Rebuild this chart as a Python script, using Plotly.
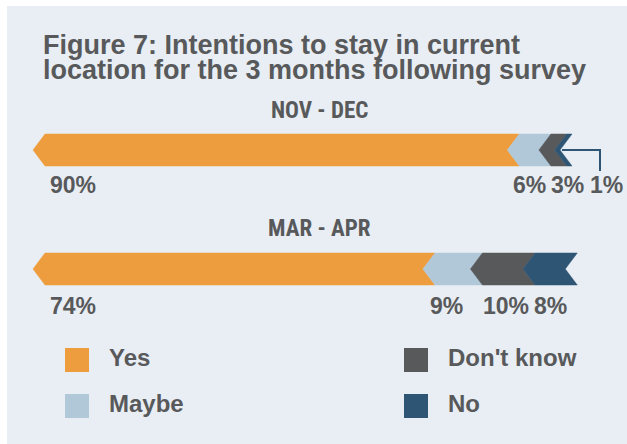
import plotly.graph_objects as go

# ---------------- data ----------------
periods = ["NOV - DEC", "MAR - APR"]
categories = ["Yes", "Maybe", "Don't know", "No"]
values_nov_dec = [90, 6, 3, 1]
values_mar_apr = [74, 9, 10, 8]
title_lines = ["Figure 7: Intentions to stay in current",
               "location for the 3 months following survey"]

colors = ["#EE9D3E", "#B1C8D9", "#58595B", "#2E5574"]
text_color = "#58595B"
panel_color = "#E8EEF3"

W, H = 627, 444
PX_PER_PCT = 5.27
X0_PX = 45  # pixel of 0 %
xr = [-X0_PX / PX_PER_PCT, (W - X0_PX) / PX_PER_PCT]

def px2x(px):
    return (px - X0_PX) / PX_PER_PCT

d = 12 / PX_PER_PCT      # chevron depth in %
half_h = 16              # half bar height (px)
bar_centers = [150, 269]
label_y = [185, 306]
header_y = [110, 228]
# manual label nudges (in %) for crowded labels
label_nudge = [[0, 0, 2.7, 8.1], [0, -1.1, 0.6, 0]]

CONDENSED = "Roboto Condensed, Liberation Sans Narrow, sans-serif"
SANS = "Liberation Sans, Arial, sans-serif"

fig = go.Figure()
annotations = []
shapes = []

# panel background
shapes.append(dict(type="rect", xref="paper", yref="paper",
                   x0=7 / W, x1=1, y0=0, y1=1 - 6 / H,
                   fillcolor=panel_color, line=dict(width=0), layer="below"))

for bi, vals in enumerate([values_nov_dec, values_mar_apr]):
    c = bar_centers[bi]
    s = 0
    for si, v in enumerate(vals):
        e = s + v
        xs = [s, s - d, s, e, e - d, e, s]
        ys = [c - half_h, c, c + half_h, c + half_h, c, c - half_h, c - half_h]
        fig.add_trace(go.Scatter(x=xs, y=ys, mode="lines", fill="toself",
                                 fillcolor=colors[si],
                                 line=dict(color=colors[si], width=0.5),
                                 hoverinfo="skip", showlegend=False))
        if si == 0:
            lx, xanchor = px2x(48), "left"
        else:
            lx, xanchor = (s + e) / 2 - d / 2 + label_nudge[bi][si], "center"
        annotations.append(dict(x=lx, y=label_y[bi], xref="x", yref="y",
                                text=f"<b>{v}%</b>", showarrow=False,
                                xanchor=xanchor, yanchor="middle",
                                font=dict(family=SANS, size=23, color=text_color)))
        s = e
    annotations.append(dict(x=0.51, y=header_y[bi], xref="paper", yref="y",
                            text=f"<b>{periods[bi]}</b>", showarrow=False,
                            xanchor="center", yanchor="middle",
                            font=dict(family=CONDENSED, size=23, color=text_color)))

# leader line for the 1% segment
fig.add_trace(go.Scatter(x=[px2x(562), px2x(600), px2x(600)],
                         y=[bar_centers[0], bar_centers[0], 171],
                         mode="lines", line=dict(color=colors[3], width=2),
                         hoverinfo="skip", showlegend=False))

# title (two tight lines)
for i, t in enumerate(title_lines):
    annotations.append(dict(x=41 / W, y=45 + i * 25, xref="paper", yref="y",
                            text=f"<b>{t}</b>", showarrow=False,
                            xanchor="left", yanchor="middle",
                            font=dict(family=SANS, size=27, color=text_color)))

# legend (manual)
leg_pos = [(65, 360), (65, 406), (404, 360), (404, 406)]
for idx, (lx, ly) in enumerate(leg_pos):
    shapes.append(dict(type="rect", xref="paper", yref="y",
                       x0=lx / W, x1=(lx + 24) / W, y0=ly - 12, y1=ly + 12,
                       fillcolor=colors[idx], line=dict(width=0)))
    annotations.append(dict(x=(lx + 42) / W, y=ly - 3, xref="paper", yref="y",
                            text=f"<b>{categories[idx]}</b>", showarrow=False,
                            xanchor="left", yanchor="middle",
                            font=dict(family=SANS, size=24, color=text_color)))

fig.update_layout(
    width=W, height=H,
    margin=dict(l=0, r=0, t=0, b=0),
    paper_bgcolor="white", plot_bgcolor="rgba(0,0,0,0)",
    xaxis=dict(range=xr, visible=False, fixedrange=True),
    yaxis=dict(range=[H, 0], visible=False, fixedrange=True),
    shapes=shapes, annotations=annotations, showlegend=False,
)

fig.write_html("out.html", config={"displayModeBar": False},
               post_script="document.body.style.margin='0px';")
